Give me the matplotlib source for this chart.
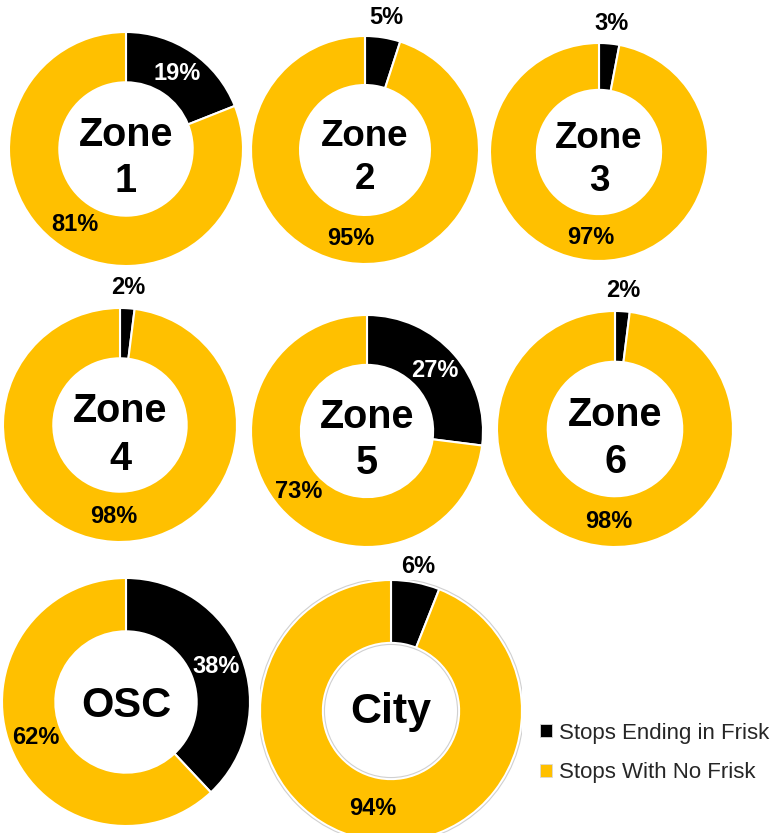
import numpy as np
import matplotlib.pyplot as plt
from matplotlib.patches import Patch, Circle

plt.rcParams['font.family'] = ['Liberation Sans', 'DejaVu Sans']

names = ['Zone\n1', 'Zone\n2', 'Zone\n3', 'Zone\n4', 'Zone\n5', 'Zone\n6', 'OSC', 'City']
frisk = [19, 5, 3, 2, 27, 2, 38, 6]
no_frisk = [81, 95, 97, 98, 73, 98, 62, 94]
series = ['Stops Ending in Frisk', 'Stops With No Frisk']

# layout in pixels: centre x, centre y (from top), outer radius, hole ratio, title size, title drop
layout = [
    (126, 149, 117, 0.57, 28.5, 9),
    (365, 150, 114, 0.57, 26.5, 8),
    (599, 152, 109, 0.57, 26.5, 8),
    (120, 425, 117, 0.57, 28.5, 10),
    (367, 431, 116, 0.57, 28.5, 9),
    (615, 429, 118, 0.57, 28.5, 9),
    (126, 702, 124, 0.57, 30, 4),
    (391, 711, 131, 0.52, 31, 1),
]
colors = ['#000000', '#FFC000']

W, H = 781, 833
fig = plt.figure(figsize=(W / 100, H / 100), dpi=100)

for name, f, nf, (cx, cy, R, hole, tsize, drop) in zip(names, frisk, no_frisk, layout):
    ax = fig.add_axes([(cx - R) / W, 1 - (cy + R) / H, 2 * R / W, 2 * R / H])
    vals = [f, nf]
    ax.pie(vals, colors=colors, startangle=90, counterclock=False, radius=1,
           wedgeprops=dict(width=1 - hole, edgecolor='white', linewidth=1.5))
    if name == 'City':
        ax.add_patch(Circle((0, 0), 1.012, fill=False, ec='#d0d0d0', lw=0.8))
        ax.add_patch(Circle((0, 0), hole - 0.012, fill=False, ec='#d0d0d0', lw=0.8))
    ax.set_xlim(-1, 1)
    ax.set_ylim(-1, 1)
    ax.set_aspect('equal')
    ax.axis('off')

    # data labels
    start = 0
    mid_r = (1 + hole) / 2
    for i, v in enumerate(vals):
        ang = np.deg2rad((start + v / 2) / 100 * 360)
        start += v
        if i == 0 and v < 10:
            r = 1.12 if name == 'City' else 1.18
            col = 'black'
        else:
            r = mid_r
            col = 'white' if i == 0 else 'black'
        ax.text(r * np.sin(ang), r * np.cos(ang), f'{v}%', ha='center', va='center',
                fontsize=17, fontweight='bold', color=col, clip_on=False)

    ax.text(0, -drop / R, name, ha='center', va='center', fontsize=tsize,
            fontweight='bold', linespacing=1.3)

handles = [Patch(facecolor=c, edgecolor='#d9d9d9', linewidth=0.6) for c in colors]
fig.legend(handles, series, loc='center left', bbox_to_anchor=(520 / W, 1 - 753 / H),
           frameon=False, fontsize=16, handlelength=0.55, handleheight=0.55,
           handletextpad=0.3, labelspacing=0.85, labelcolor='#262626')

fig.savefig('out.png', dpi=100)
